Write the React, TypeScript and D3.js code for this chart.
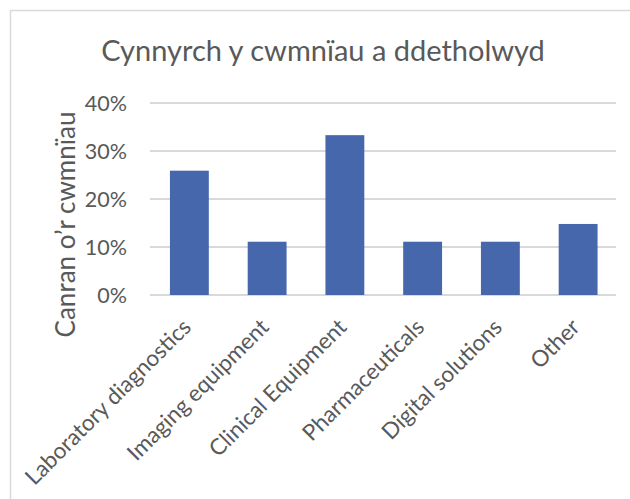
import React from "react";
import * as d3 from "d3";

const categories = [
  "Laboratory diagnostics",
  "Imaging equipment",
  "Clinical Equipment",
  "Pharmaceuticals",
  "Digital solutions",
  "Other",
];
const values = [25.9, 11.1, 33.3, 11.1, 11.1, 14.8];
const yTicks = [0, 10, 20, 30, 40];
const title = "Cynnyrch y cwmnïau a ddetholwyd";
const yTitle = "Canran o’r cwmnïau";

const W = 630;
const H = 499;
const FONT = "Lato, 'Open Sans', sans-serif";
const TEXT = "#595959";
const GRID = "#d9d9d9";
const BAR = "#4767ad";

export default function App() {
  const plot = { left: 150.5, right: 617, top: 103, bottom: 295 };
  const x = d3
    .scaleBand<string>()
    .domain(categories)
    .range([plot.left, plot.right])
    .paddingInner(0.5)
    .paddingOuter(0.25);
  const y = d3.scaleLinear().domain([0, 40]).range([plot.bottom, plot.top]);

  return (
    <svg
      width={W}
      height={H}
      style={{ position: "absolute", left: 0, top: 0, display: "block", background: "#fff" }}
      fontFamily={FONT}
    >
      <rect x={0} y={0} width={W} height={H} fill="#fff" />
      <rect x={10.5} y={10.5} width={W + 10} height={H + 10} fill="none" stroke={GRID} strokeWidth={1.5} />
      <text x={323} y={60.5} textAnchor="middle" fontSize={29} fill={TEXT}>
        {title}
      </text>
      {yTicks.map((t) => (
        <g key={t}>
          <line x1={plot.left - 0.5} x2={plot.right - 1} y1={y(t)} y2={y(t)} stroke={GRID} strokeWidth={1.8} />
          <text x={127} y={y(t)} dy="0.36em" textAnchor="end" fontSize={21.5} fill={TEXT}>
            {t}%
          </text>
        </g>
      ))}
      {categories.map((c, i) => (
        <rect
          key={c}
          x={x(c)}
          y={y(values[i])}
          width={x.bandwidth()}
          height={y(0) - y(values[i])}
          fill={BAR}
        />
      ))}
      {categories.map((c) => (
        <text
          key={c}
          transform={`translate(${(x(c) as number) + x.bandwidth() / 2 + 3},328.5) rotate(-45)`}
          textAnchor="end"
          fontSize={22.5}
          fill={TEXT}
        >
          {c}
        </text>
      ))}
      <text
        transform={`translate(75,224.5) rotate(-90)`}
        textAnchor="middle"
        fontSize={26}
        fill={TEXT}
      >
        {yTitle}
      </text>
    </svg>
  );
}
